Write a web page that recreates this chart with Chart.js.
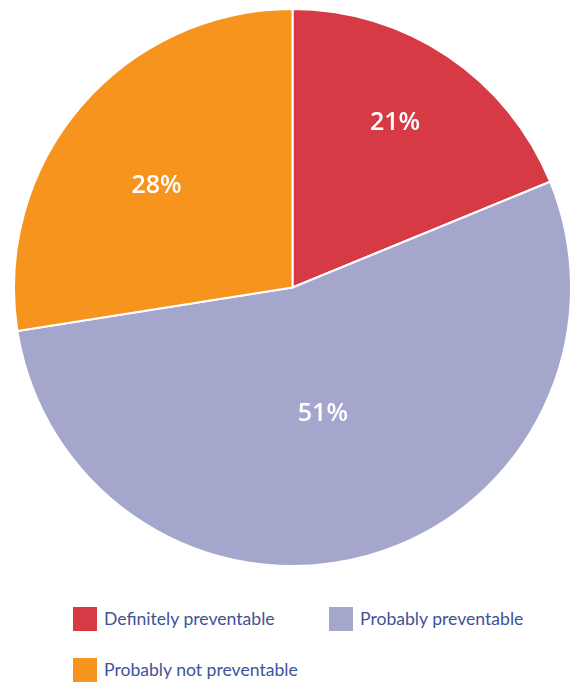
<!DOCTYPE html>
<html>
<head>
<meta charset="utf-8">
<script src="https://cdn.jsdelivr.net/npm/chart.js@4/dist/chart.umd.min.js"></script>
<style>
  body { margin: 0; background: #fff; width: 576px; height: 684px; position: relative; overflow: hidden; }
  #wrap { position: absolute; left: 13px; top: 8px; width: 559px; height: 559px; }
  .legend { position: absolute; font-family: Lato, sans-serif; font-size: 17.6px; color: #3d5497; }
  .item { position: absolute; white-space: nowrap; line-height: 24px; }
  .item span { display: inline-block; width: 24px; height: 24px; vertical-align: top; margin-right: 7px; }
</style>
</head>
<body>
<div id="wrap"><canvas id="pie"></canvas></div>
<div class="legend" id="legend"></div>
<script>
const categories = ['Definitely preventable', 'Probably preventable', 'Probably not preventable'];
const shares = [18.8, 53.7, 27.5];
const shareLabels = ['21%', '51%', '28%'];
const colors = ['#d63a45', '#a4a6cc', '#f7941d'];

// Label placement per slice: fraction of radius, angle nudge in degrees
const labelRadius = [0.698, 0.462, 0.612];
const labelNudge = [-2, 2, -3.4];

const sliceLabels = {
    id: 'sliceLabels',
    afterDatasetsDraw(chart) {
        const ctx = chart.ctx;
        const meta = chart.getDatasetMeta(0);
        ctx.save();
        ctx.fillStyle = '#fff';
        ctx.font = '600 25px "Open Sans", sans-serif';
        ctx.textAlign = 'center';
        ctx.textBaseline = 'middle';
        meta.data.forEach((arc, i) => {
            const mid = (arc.startAngle + arc.endAngle) / 2 + labelNudge[i] * Math.PI / 180;
            const r = arc.outerRadius * labelRadius[i];
            ctx.fillText(shareLabels[i], arc.x + Math.cos(mid) * r, arc.y + Math.sin(mid) * r + 1);
        });
        ctx.restore();
    }
};

new Chart(document.getElementById('pie'), {
    type: 'pie',
    data: {
        labels: categories,
        datasets: [{
            data: shares,
            backgroundColor: colors,
            borderColor: '#fff',
            borderWidth: 2
        }]
    },
    options: {
        responsive: true,
        maintainAspectRatio: false,
        animation: false,
        layout: { padding: 0 },
        plugins: {
            legend: { display: false },
            tooltip: { enabled: false }
        }
    },
    plugins: [sliceLabels]
});

// Legend laid out in two columns like the original
const legendPos = [[73, 607], [329, 607], [73, 658]];
const legend = document.getElementById('legend');
categories.forEach((name, i) => {
    const item = document.createElement('div');
    item.className = 'item';
    item.style.left = legendPos[i][0] + 'px';
    item.style.top = legendPos[i][1] + 'px';
    item.innerHTML = '<span style="background:' + colors[i] + '"></span>' + name;
    legend.appendChild(item);
});
</script>
</body>
</html>
